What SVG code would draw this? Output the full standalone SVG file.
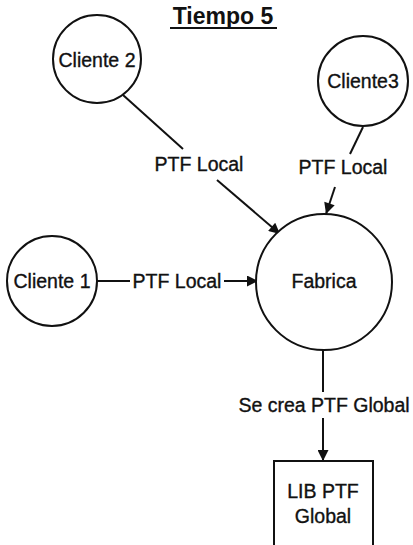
<svg xmlns="http://www.w3.org/2000/svg" width="413" height="545" viewBox="0 0 413 545">
<defs>
<style>
.n{fill:#fff;stroke:#111;stroke-width:2}
.t{font-family:"Liberation Sans",Arial,sans-serif;font-size:19.5px;fill:#111;stroke:#111;stroke-width:0.35;text-anchor:middle}
.c{stroke:#111;stroke-width:2;fill:none}
</style>
<marker id="ah" viewBox="0 0 10 10" refX="10" refY="5" markerWidth="6.5" markerHeight="5.5" orient="auto" markerUnits="strokeWidth">
<path d="M0,0 L10,5 L0,10 z" fill="#111"/>
</marker>
</defs>
<rect width="413" height="545" fill="#fff"/>
<g id="title">
<text x="223" y="24" font-family="Liberation Sans,Arial,sans-serif" font-size="23" font-weight="bold" fill="#111" text-anchor="middle">Tiempo 5</text>
<line x1="170" y1="28" x2="277" y2="28" stroke="#111" stroke-width="2"/>
</g>
<g id="connectors">
<line class="c" x1="123" y1="95" x2="183" y2="149"/>
<line class="c" x1="217" y1="180" x2="280" y2="234" marker-end="url(#ah)"/>
<line class="c" x1="363" y1="127" x2="350" y2="154"/>
<line class="c" x1="335" y1="187" x2="326" y2="214" marker-end="url(#ah)"/>
<line class="c" x1="97" y1="281" x2="130" y2="281"/>
<line class="c" x1="224" y1="281" x2="258" y2="281" marker-end="url(#ah)"/>
<line class="c" x1="323" y1="350" x2="323" y2="392"/>
<line class="c" x1="323" y1="418" x2="323" y2="461" marker-end="url(#ah)"/>
<text class="t" x="199" y="171">PTF Local</text>
<text class="t" x="343" y="174">PTF Local</text>
<text class="t" x="177" y="288">PTF Local</text>
<text class="t" x="324" y="412">Se crea PTF Global</text>
</g>
<g id="cliente2">
<circle class="n" cx="97" cy="59" r="44"/>
<text class="t" x="97" y="67">Cliente 2</text>
</g>
<g id="cliente3">
<circle class="n" cx="363" cy="81" r="45"/>
<text class="t" x="363" y="88">Cliente3</text>
</g>
<g id="cliente1">
<circle class="n" cx="52" cy="281" r="45"/>
<text class="t" x="52" y="288">Cliente 1</text>
</g>
<g id="fabrica">
<circle class="n" cx="324" cy="282" r="68"/>
<text class="t" x="324" y="288">Fabrica</text>
</g>
<g id="lib">
<rect class="n" x="274" y="461" width="99" height="90"/>
<text class="t" x="323" y="498">LIB PTF</text>
<text class="t" x="323" y="523">Global</text>
</g>
</svg>
